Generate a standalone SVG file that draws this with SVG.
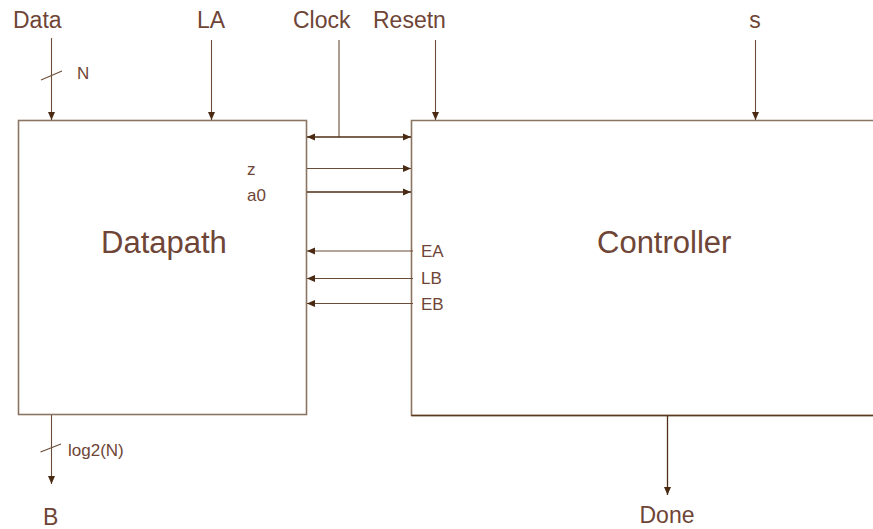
<svg xmlns="http://www.w3.org/2000/svg" width="873" height="529" viewBox="0 0 873 529">
<style>
text{font-family:"Liberation Sans",Arial,sans-serif;fill:#6E4536}
.big{font-size:31px}
.lbl{font-size:23px}
.sm{font-size:17px}
.box{fill:none;stroke:#8A7462;stroke-width:1.6}
.w{fill:none;stroke:#6A4D38;stroke-width:1.1}
.d{fill:none;stroke:#4E2E16;stroke-width:1.3}
</style>
<defs>
<marker id="ah" viewBox="0 0 8 8" refX="8" refY="4" markerWidth="8" markerHeight="8" markerUnits="userSpaceOnUse" orient="auto-start-reverse">
<path d="M0,0.5 L8,4 L0,7.5 Z" fill="#4A2A12"/>
</marker>
</defs>
<rect width="873" height="529" fill="#ffffff"/>
<g id="datapath">
<rect class="box" x="18.5" y="120.5" width="288" height="294"/>
<text class="big" x="101" y="253">Datapath</text>
<text class="sm" x="247" y="175">z</text>
<text class="sm" x="247" y="201">a0</text>
</g>
<g id="controller">
<path class="box" d="M880,120.5 H411.5 V415.5 H880"/>
<path d="M411.5,415.5 H880" fill="none" stroke="#5C3A1E" stroke-width="1.6"/>
<text class="big" x="597" y="253">Controller</text>
<text class="sm" x="421" y="257">EA</text>
<text class="sm" x="421" y="284">LB</text>
<text class="sm" x="421" y="310">EB</text>
</g>
<g id="inputs">
<text class="lbl" x="13" y="28">Data</text>
<text class="lbl" x="211" y="28" text-anchor="middle">LA</text>
<text class="lbl" x="293" y="28">Clock</text>
<text class="lbl" x="373" y="28">Resetn</text>
<text class="lbl" x="755" y="28" text-anchor="middle">s</text>
<text class="sm" x="77" y="79">N</text>
<text class="sm" x="68" y="456">log2(N)</text>
<text class="lbl" x="43" y="525">B</text>
<text class="lbl" x="667" y="523" text-anchor="middle">Done</text>
</g>
<g id="connectors">
<path class="w" d="M51.5,38 V120" marker-end="url(#ah)"/>
<path class="w" d="M41,80 L62,71"/>
<path class="w" d="M211.5,40 V120" marker-end="url(#ah)"/>
<path class="w" d="M339,40 V137"/>
<path class="d" d="M307,137 H411" marker-start="url(#ah)" marker-end="url(#ah)"/>
<path class="w" d="M435.5,40 V120" marker-end="url(#ah)"/>
<path class="w" d="M755.5,40 V120" marker-end="url(#ah)"/>
<path class="w" d="M307,168.5 H411" marker-end="url(#ah)"/>
<path class="d" d="M307,192 H411" marker-end="url(#ah)"/>
<path class="w" d="M413,251 H307" marker-end="url(#ah)"/>
<path class="w" d="M413,278.5 H307" marker-end="url(#ah)"/>
<path class="w" d="M413,303.5 H307" marker-end="url(#ah)"/>
<path class="w" d="M51.5,415 V484" marker-end="url(#ah)"/>
<path class="w" d="M40.5,452 L61,444"/>
<path class="d" d="M667.5,416 V495" marker-end="url(#ah)"/>
</g>
</svg>
